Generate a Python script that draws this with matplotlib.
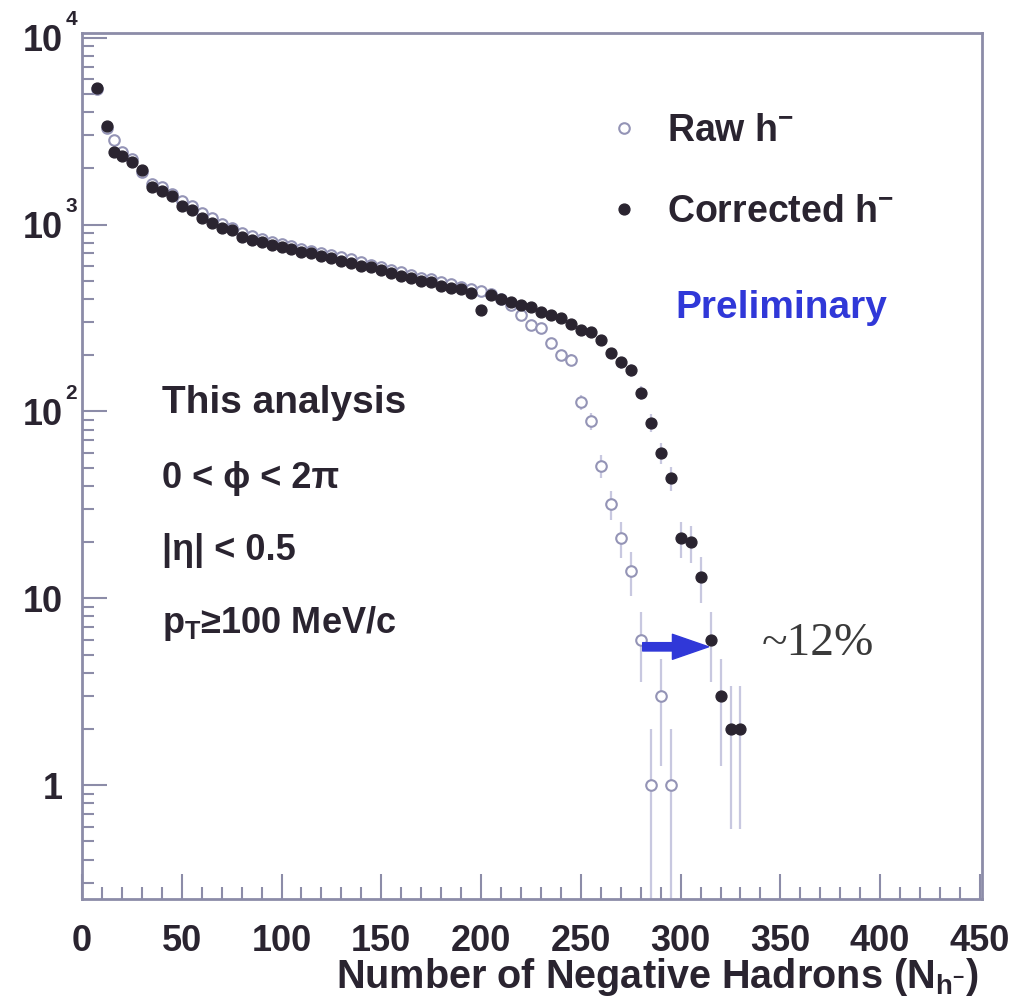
import numpy as np
import matplotlib.pyplot as plt
from matplotlib.ticker import FixedLocator, LogLocator, NullFormatter

plt.rcParams['font.family'] = ['Liberation Sans', 'DejaVu Sans']
plt.rcParams['font.weight'] = 'bold'
plt.rcParams['mathtext.fontset'] = 'custom'
plt.rcParams['mathtext.rm'] = 'Liberation Sans:bold'
plt.rcParams['mathtext.bf'] = 'Liberation Sans:bold'
plt.rcParams['mathtext.it'] = 'Liberation Sans:bold:italic'

# multiplicity bins (number of negative hadrons)
corr_x = [7.5, 12.5, 16, 20, 25, 30, 35, 40, 45, 50, 55, 60, 65, 70, 75, 80, 85, 90,
          95, 100, 105, 110, 115, 120, 125, 130, 135, 140, 145, 150, 155, 160, 165,
          170, 175, 180, 185, 190, 195, 200, 205, 210, 215, 220, 225, 230, 235, 240,
          245, 250, 255, 260, 265, 270, 275, 280, 285, 290, 295, 300, 305, 310, 315,
          320, 325, 330]
corr_n = [5400, 3380, 2450, 2330, 2150, 1950, 1580, 1520, 1420, 1260, 1200, 1090, 1020,
          960, 940, 860, 830, 810, 780, 760, 740, 710, 700, 680, 660, 640, 620, 600, 590,
          570, 550, 530, 520, 500, 490, 470, 460, 450, 430, 350, 420, 400, 385, 370, 360,
          340, 330, 315, 295, 272, 265, 240, 205, 183, 166, 126, 87, 60, 44, 21, 20, 13,
          6, 3, 2, 2]

raw_x = [7.5, 12.5, 16, 20, 25, 30, 35, 40, 45, 50, 55, 60, 65, 70, 75, 80, 85, 90,
         95, 100, 105, 110, 115, 120, 125, 130, 135, 140, 145, 150, 155, 160, 165,
         170, 175, 180, 185, 190, 195, 200, 205, 210, 215, 220, 225, 230, 235, 240,
         245, 250, 255, 260, 265, 270, 275, 280, 285, 290, 295]
raw_n = [5300, 3300, 2850, 2450, 2250, 1900, 1650, 1580, 1450, 1330, 1250, 1150, 1080,
         1010, 960, 900, 870, 840, 810, 790, 770, 740, 720, 700, 690, 670, 650, 630, 610,
         590, 570, 555, 540, 520, 510, 495, 480, 465, 450, 440, 425, 400, 370, 330, 290,
         280, 231, 200, 188, 112, 89, 51, 32, 21, 14, 6, 1, 3, 1]

x_ticks = [0, 50, 100, 150, 200, 250, 300, 350, 400, 450]
y_ticks = [1, 10, 100, 1000, 10000]
y_tick_labels = ['1', '10', '10', '10', '10']
y_exponents = {100: '2', 1000: '3', 10000: '4'}

cut_lines = ['0 < \u03d5 < 2\u03c0', '|\u03b7| < 0.5',
             r'p$_{\mathbf{T}}$' + '\u2265100 MeV/c']

frame_col = '#8c8ca8'
err_col = '#c8c8e0'
dark = '#2a2430'
blue = '#3038d8'


def sqrt_err(n):
    n = np.asarray(n, dtype=float)
    err = np.sqrt(n)
    lo = np.minimum(err, n * 0.999)
    return n, [lo, err]


fig = plt.figure(figsize=(10.22, 10.01), dpi=100)
ax = fig.add_axes([0.0802, 0.1019, 0.8806, 0.865])

rn, rerr = sqrt_err(raw_n)
cn, cerr = sqrt_err(corr_n)
ax.errorbar(raw_x, rn, yerr=rerr, fmt='none', ecolor=err_col, elinewidth=1.6, zorder=1)
ax.errorbar(corr_x, cn, yerr=cerr, fmt='none', ecolor=err_col, elinewidth=1.6, zorder=1)
raw_h, = ax.plot(raw_x, rn, 'o', ms=7.6, mfc='white', mec='#9494b6', mew=1.5,
                 ls='none', zorder=2, label=r'Raw h$^{-}$')
corr_h, = ax.plot(corr_x, cn, 'o', ms=7.8, color=dark, mec=dark, ls='none',
                  zorder=3, label=r'Corrected h$^{-}$')

ax.set_yscale('log')
ax.set_xlim(0, 451)
ax.set_ylim(0.246, 10570)

ax.xaxis.set_major_locator(FixedLocator(x_ticks))
ax.xaxis.set_minor_locator(FixedLocator(np.arange(0, 451, 10)))
ax.set_xticklabels([str(t) for t in x_ticks])
ax.yaxis.set_major_locator(FixedLocator(y_ticks))
ax.set_yticklabels(y_tick_labels)
ax.yaxis.set_minor_locator(LogLocator(base=10, subs=np.arange(2, 10)))
ax.yaxis.set_minor_formatter(NullFormatter())

ax.tick_params(which='both', direction='in', color=frame_col, width=1.5,
               top=False, right=False, labelcolor=dark)
ax.tick_params(which='major', length=18)
ax.tick_params(which='minor', length=8.5)
ax.tick_params(axis='x', which='major', labelsize=26, pad=18)
ax.tick_params(axis='y', which='major', labelsize=26, pad=14)
for sp in ax.spines.values():
    sp.set_color(frame_col)
    sp.set_linewidth(2)

# decade exponents next to the "10" labels
for val, ex in y_exponents.items():
    ax.annotate(ex, xy=(0, val), xycoords=ax.get_yaxis_transform(),
                xytext=(-12, 6), textcoords='offset points', fontsize=15,
                ha='left', va='bottom', color=dark, annotation_clip=False)

fig.text(979 / 1022, 1 - 988 / 1001, r'Number of Negative Hadrons (N$_{\mathbf{h}^{\mathbf{-}}}$)',
         ha='right', va='baseline', fontsize=28.5, color=dark)

# selection cuts
fig.text(162 / 1022, 1 - 413 / 1001, 'This analysis', fontsize=28, color=dark)
for txt, yb in zip(cut_lines, [488, 560, 633]):
    fig.text(162 / 1022, 1 - yb / 1001, txt, fontsize=26, color=dark)

leg = ax.legend(handles=[raw_h, corr_h], loc='upper left', frameon=False,
                bbox_to_anchor=(613 / 1022, 1 - 113 / 1001), bbox_transform=fig.transFigure,
                fontsize=27, handlelength=0.6, handletextpad=0.85, labelspacing=1.2,
                borderpad=0, borderaxespad=0)
for t in leg.get_texts():
    t.set_color(dark)

fig.text(675 / 1022, 1 - 318 / 1001, 'Preliminary', fontsize=28, color=blue)

# shift of the tail from raw to corrected multiplicity
ax.annotate('', xy=(314, 5.5), xytext=(281, 5.5),
            arrowprops=dict(arrowstyle='simple,head_length=1.3,head_width=0.9,tail_width=0.3',
                            color=blue, mutation_scale=20, shrinkA=0, shrinkB=0), zorder=4)
fig.text(762 / 1022, 1 - 655 / 1001, '~12%', fontsize=34, color='#3a3a3a',
         family='Liberation Serif', weight='normal')

fig.savefig('out.png', dpi=100)
